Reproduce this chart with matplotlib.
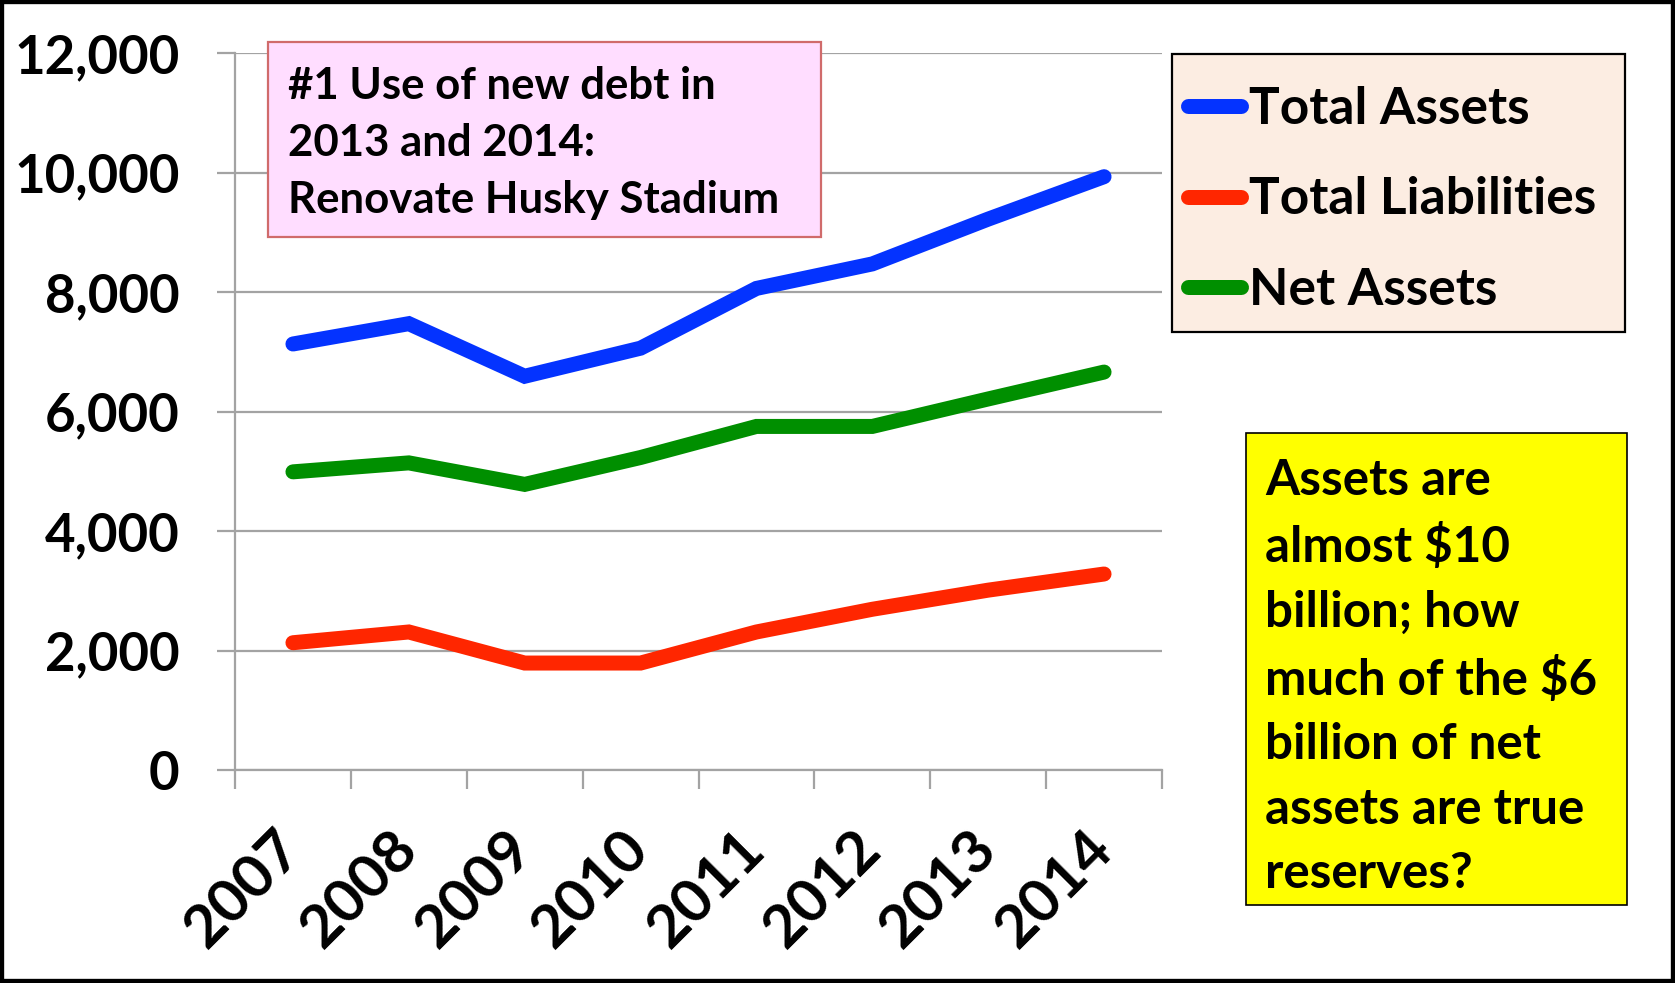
import numpy as np
import matplotlib
matplotlib.use('Agg')
import matplotlib.pyplot as plt
from matplotlib.patches import Rectangle
from matplotlib.ticker import FuncFormatter
from matplotlib.transforms import ScaledTranslation

# data (millions of dollars)
years = ['2007', '2008', '2009', '2010', '2011', '2012', '2013', '2014']
total_assets = [7130, 7470, 6590, 7060, 8060, 8470, 9220, 9930]
total_liabilities = [2130, 2310, 1790, 1790, 2310, 2690, 3010, 3280]
net_assets = [4990, 5140, 4780, 5230, 5750, 5750, 6210, 6660]

note_top = '#1 Use of new debt in\n2013 and 2014:\nRenovate Husky Stadium'
note_side = ('Assets are\nalmost $10\nbillion; how\nmuch of the $6\n'
             'billion of net\nassets are true\nreserves?')

plt.rcParams['font.family'] = ['Lato', 'DejaVu Sans']
plt.rcParams['font.weight'] = 'bold'

W, H = 1675, 983
grey = '#A3A3A3'

fig = plt.figure(figsize=(W / 100, H / 100), dpi=100)
ax = fig.add_axes([235 / W, 1 - 770 / H, (1162 - 235) / W, (770 - 53) / H])

x = np.arange(len(years))
style = dict(lw=10.8, solid_capstyle='round', solid_joinstyle='miter')
ax.plot(x, total_assets, color='#0433FF', label='Total Assets', **style)
ax.plot(x, total_liabilities, color='#FF2600', label='Total Liabilities', **style)
ax.plot(x, net_assets, color='#008F00', label='Net Assets', **style)

ax.set_xlim(-0.5, len(years) - 0.5)
ax.set_ylim(0, 12000)
ax.set_yticks(range(0, 12001, 2000))
ax.yaxis.set_major_formatter(FuncFormatter(lambda v, p: f'{v:,.0f}'))
ax.yaxis.grid(True, color=grey, lw=1.6)
ax.set_axisbelow(True)

for s in ['top', 'right']:
    ax.spines[s].set_visible(False)
for s in ['left', 'bottom']:
    ax.spines[s].set_color(grey)
    ax.spines[s].set_linewidth(1.6)

ax.tick_params(axis='y', length=13, width=1.6, color=grey, pad=27, labelsize=38)
ax.set_xticks(x)
ax.set_xticks(np.arange(-0.5, len(years), 1), minor=True)
ax.tick_params(axis='x', which='minor', length=14, width=1.6, color=grey)
ax.tick_params(axis='x', which='major', length=0, pad=48, labelsize=43)
ax.set_xticklabels(years, rotation=45, ha='right', va='center_baseline',
                   rotation_mode='anchor')
for lab in ax.get_xticklabels():
    lab.set_transform(lab.get_transform() + ScaledTranslation(-0.04, 0, fig.dpi_scale_trans))

# legend box
fig.add_artist(Rectangle((1172 / W, 1 - 332 / H), (1625 - 1172) / W, (332 - 54) / H,
                         facecolor='#FCEDE2', edgecolor='black', lw=1.6, zorder=2))
fig.legend(loc='center left', bbox_to_anchor=(1188 / W, 1 - 200 / H), frameon=False,
           fontsize=37, handlelength=1.03, handletextpad=0.15, labelspacing=0.84,
           borderpad=0, borderaxespad=0).set_zorder(3)

# pink note
fig.add_artist(Rectangle((268 / W, 1 - 237 / H), (821 - 268) / W, (237 - 42) / H,
                         facecolor='#FFDDFF', edgecolor='#D06B6B', lw=1.6, zorder=2))
fig.text(288 / W, 1 - 143 / H, note_top, fontsize=31.5, va='center', ha='left',
         linespacing=1.52, zorder=3)

# yellow note
fig.add_artist(Rectangle((1246 / W, 1 - 905 / H), (1627 - 1246) / W, (905 - 433) / H,
                         facecolor='#FFFF00', edgecolor='black', lw=1.2, zorder=2))
fig.text(1265 / W, 1 - 677 / H, note_side, fontsize=35.5, va='center', ha='left',
         linespacing=1.53, zorder=3)

# outer frame
fig.add_artist(Rectangle((0, 0), 1, 1, fill=False, edgecolor='black', lw=6, zorder=5))

fig.savefig('out.png', dpi=100)
